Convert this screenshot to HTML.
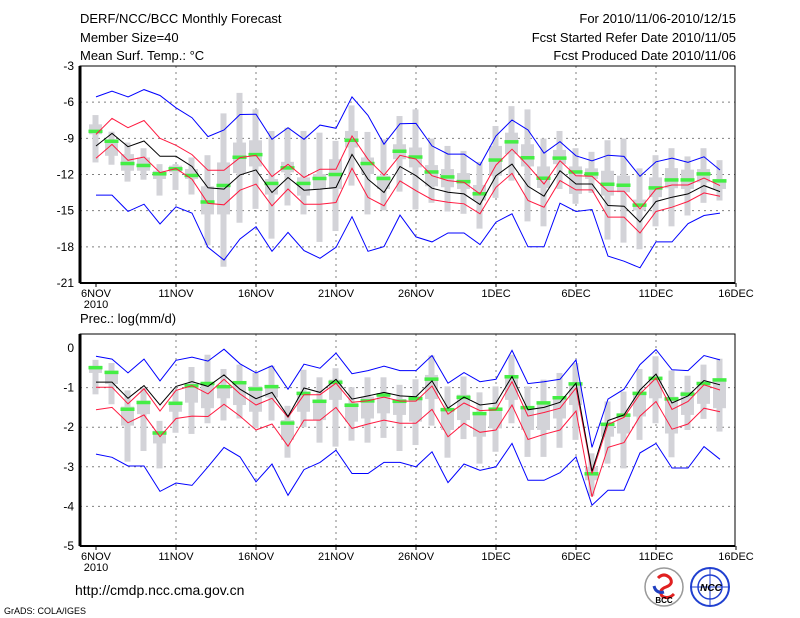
<!DOCTYPE html>
<html><head><meta charset="utf-8"><title>DERF/NCC/BCC Monthly Forecast</title>
<style>
html,body{margin:0;padding:0;background:#fff;}
svg{display:block;}
text{font-family:"Liberation Sans","DejaVu Sans",sans-serif;fill:#000;}
</style></head>
<body>
<svg id="chart" width="800" height="618" viewBox="0 0 800 618" xmlns="http://www.w3.org/2000/svg">
  <rect width="800" height="618" fill="#fff"/>
  <g font-size="13">
    <text x="80" y="23">DERF/NCC/BCC Monthly Forecast</text>
    <text x="80" y="42">Member Size=40</text>
    <text x="80" y="60">Mean Surf. Temp.: °C</text>
    <text x="736" y="23" text-anchor="end">For 2010/11/06-2010/12/15</text>
    <text x="736" y="42" text-anchor="end">Fcst Started Refer Date 2010/11/05</text>
    <text x="736" y="60" text-anchor="end">Fcst Produced Date 2010/11/06</text>
    <text x="80" y="323">Prec.: log(mm/d)</text>
  </g>
  <g id="top"></g>
  <g id="bot"></g>
  <text x="75" y="595" font-size="14">http://cmdp.ncc.cma.gov.cn</text>
  <text x="4" y="614" font-size="9">GrADS: COLA/IGES</text>
  <g>
    <circle cx="664" cy="587" r="19" fill="#fff" stroke="#999" stroke-width="1.5"/>
    <path d="M658 578 q6 -6 12 0 q4 6 -4 9 q-8 3 -4 9 q6 4 12 -2" fill="none" stroke="#e02020" stroke-width="3"/>
    <path d="M654 586 q2 8 10 6" fill="none" stroke="#2040c0" stroke-width="3"/>
    <text x="664" y="603" font-size="8" font-weight="bold" text-anchor="middle" fill="#1030a0">BCC</text>
  </g>
  <g>
    <circle cx="710" cy="587" r="19" fill="#fff" stroke="#2040d0" stroke-width="2"/>
    <circle cx="710" cy="587" r="12" fill="none" stroke="#2040d0" stroke-width="1.5"/>
    <line x1="692" y1="587" x2="728" y2="587" stroke="#2040d0"/>
    <line x1="710" y1="569" x2="710" y2="605" stroke="#2040d0"/>
    <text x="711" y="591" font-size="10" font-weight="bold" font-style="italic" text-anchor="middle" fill="#1030c0">NCC</text>
  </g>
</svg>
<script>
// ---------- Temperature panel data (°C) ----------
const tBlueHi=[-5.56,-5.09,-5.56,-4.96,-5.45,-6.47,-7.29,-8.86,-8.31,-7.02,-7.0,-9.08,-8.12,-9.08,-7.9,-8.17,-5.56,-7.1,-9.49,-7.79,-7.76,-9.63,-10.31,-10.31,-11.22,-8.8,-7.48,-8.31,-10.23,-9.27,-10.45,-10.86,-10.4,-10.5,-12.15,-10.95,-10.64,-11.0,-10.53,-11.63];
const tRedHi=[-8.67,-7.35,-8.12,-7.52,-9.0,-9.58,-10.35,-11.65,-11.65,-10.6,-10.41,-12.17,-11.15,-12.25,-11.56,-11.56,-8.81,-10.74,-12.06,-10.41,-10.73,-12.1,-12.51,-12.65,-13.61,-11.22,-9.9,-11.27,-12.79,-10.86,-12.1,-12.15,-13.39,-13.39,-14.85,-13.2,-12.87,-12.87,-12.29,-12.92];
const tMean=[-9.64,-8.59,-9.69,-9.22,-10.49,-10.49,-11.34,-13.1,-13.21,-12.03,-11.62,-13.49,-12.25,-13.3,-13.21,-13.08,-10.33,-12.39,-13.49,-11.34,-12.1,-13.14,-13.47,-13.61,-14.49,-12.1,-11.14,-12.98,-13.8,-11.69,-12.79,-12.79,-14.57,-14.63,-15.95,-14.24,-13.88,-13.61,-12.92,-13.42];
const tRedLo=[-10.66,-9.5,-10.82,-10.55,-11.84,-11.51,-12.39,-14.4,-14.51,-13.3,-12.8,-14.6,-13.2,-14.46,-14.46,-14.32,-11.48,-13.9,-14.6,-12.53,-13.34,-14.08,-14.3,-14.43,-15.26,-13.06,-11.91,-14.16,-14.71,-12.51,-13.28,-13.28,-15.53,-15.53,-16.85,-15.07,-14.71,-14.24,-13.53,-13.8];
const tBlueLo=[-13.71,-13.71,-15.06,-14.46,-16.11,-14.68,-15.2,-18.04,-19.09,-17.35,-16.33,-18.37,-16.8,-18.31,-18.95,-18.04,-15.5,-18.37,-17.98,-15.37,-17.18,-17.59,-16.85,-16.85,-17.81,-15.95,-15.26,-18.0,-18.0,-14.38,-15.07,-14.9,-18.77,-19.19,-19.74,-17.59,-17.59,-16.08,-15.4,-15.2];
const tMedian=[-8.4,-9.22,-11.07,-11.23,-11.92,-11.51,-12.06,-14.26,-12.89,-10.55,-10.33,-12.72,-11.43,-12.72,-12.31,-11.98,-9.14,-11.07,-12.31,-10.05,-10.53,-11.77,-12.18,-12.57,-13.58,-10.78,-9.27,-10.59,-12.29,-10.62,-11.77,-11.93,-12.79,-12.87,-14.52,-13.09,-12.43,-12.43,-11.93,-12.51];
const tWhiskHi=[-7.07,-8.45,-9.35,-9.82,-11.14,-11.14,-10.59,-10.4,-6.93,-5.23,-6.6,-8.39,-8.12,-8.39,-8.53,-9.21,-6.27,-8.47,-9.08,-7.15,-6.6,-9.02,-9.63,-10.04,-10.95,-7.98,-6.33,-6.6,-9.02,-8.39,-9.82,-10.12,-9.16,-9.02,-11.49,-10.4,-9.82,-10.5,-9.82,-10.81];
const tWhiskLo=[-11.0,-11.19,-12.59,-12.43,-13.75,-13.28,-13.66,-17.87,-19.65,-16.0,-14.85,-17.32,-14.57,-15.31,-17.59,-16.69,-12.92,-15.31,-14.98,-13.42,-14.9,-14.35,-15.07,-15.26,-16.49,-13.94,-12.51,-15.89,-16.3,-13.2,-14.43,-13.53,-17.4,-17.65,-18.2,-16.3,-16.3,-15.4,-14.35,-14.16];
const tBoxHi=[-7.84,-9.16,-10.31,-10.59,-11.69,-11.27,-11.55,-12.98,-11.0,-9.35,-9.16,-12.37,-10.95,-12.24,-11.96,-10.73,-8.39,-10.59,-12.1,-9.49,-9.76,-11.22,-11.55,-11.88,-12.87,-9.63,-8.53,-9.49,-11.33,-9.96,-11.33,-11.49,-11.69,-12.1,-14.08,-12.24,-11.47,-11.6,-11.55,-12.37];
const tBoxLo=[-8.66,-10.45,-11.69,-11.69,-12.37,-11.82,-12.37,-15.31,-15.31,-11.88,-11.33,-13.66,-11.82,-13.75,-13.2,-13.2,-9.76,-11.96,-13.2,-10.73,-11.41,-12.98,-13.06,-13.2,-14.16,-12.1,-10.31,-11.33,-13.12,-11.14,-13.61,-12.37,-13.75,-13.47,-14.98,-13.88,-13.14,-13.2,-12.65,-13.2];
const tTicks=[-3,-6,-9,-12,-15,-18,-21];

// ---------- Precipitation panel data (log mm/d) ----------
const pBlueHi=[-0.21,-0.28,-0.63,-0.28,-0.83,-0.31,-0.23,-0.33,-0.03,-0.4,-0.63,-0.45,-1.04,-0.41,-0.51,-0.13,-0.65,-0.57,-0.46,-0.57,-0.57,-0.19,-0.89,-0.62,-0.85,-0.79,-0.06,-0.9,-0.85,-0.79,-0.3,-2.51,-1.29,-1.04,-0.42,-0.04,-0.55,-0.57,-0.19,-0.3];
const pRedHi=[-0.99,-0.99,-1.41,-1.03,-1.59,-1.07,-0.95,-1.16,-0.79,-1.16,-1.44,-1.27,-1.75,-1.18,-1.18,-0.89,-1.37,-1.33,-1.24,-1.34,-1.34,-0.96,-1.67,-1.39,-1.58,-1.56,-0.85,-1.72,-1.63,-1.52,-1.01,-3.17,-1.93,-1.75,-1.16,-0.76,-1.55,-1.35,-0.93,-1.06];
const pMean=[-0.86,-0.86,-1.27,-0.95,-1.44,-0.97,-0.85,-0.97,-0.68,-1.04,-1.28,-1.12,-1.73,-1.01,-1.12,-0.79,-1.29,-1.21,-1.12,-1.21,-1.23,-0.83,-1.52,-1.24,-1.44,-1.39,-0.72,-1.56,-1.5,-1.37,-0.89,-3.11,-1.83,-1.69,-1.06,-0.66,-1.39,-1.21,-0.82,-0.93];
const pRedLo=[-1.56,-1.5,-1.89,-1.69,-2.24,-1.78,-1.72,-1.73,-1.42,-1.72,-2.07,-1.92,-2.48,-1.82,-1.82,-1.5,-2.03,-1.92,-1.82,-1.9,-1.9,-1.55,-2.24,-1.9,-2.13,-2.07,-1.44,-2.31,-2.18,-2.07,-1.59,-3.76,-2.51,-2.39,-1.72,-1.35,-2.05,-1.92,-1.52,-1.61];
const pBlueLo=[-2.68,-2.76,-2.98,-2.98,-3.62,-3.41,-3.47,-3.0,-2.51,-2.75,-3.38,-2.93,-3.72,-3.07,-2.89,-2.58,-3.17,-3.17,-2.89,-2.89,-3.0,-2.62,-3.4,-2.93,-3.09,-3.0,-2.41,-3.34,-3.34,-3.15,-2.75,-3.97,-3.59,-3.59,-2.65,-2.41,-3.03,-3.03,-2.49,-2.81];
const pMedian=[-0.49,-0.61,-1.54,-1.37,-2.14,-1.39,-0.95,-0.89,-0.97,-0.87,-1.03,-0.97,-1.89,-1.14,-1.34,-0.86,-1.44,-1.33,-1.18,-1.34,-1.27,-0.78,-1.55,-1.24,-1.65,-1.54,-0.72,-1.5,-1.38,-1.25,-0.9,-3.17,-1.92,-1.69,-1.14,-0.76,-1.28,-1.16,-0.89,-0.8];
const pWhiskHi=[-0.3,-0.38,-1.07,-1.0,-1.84,-1.07,-0.48,-0.17,-0.53,-0.42,-0.63,-0.45,-1.46,-0.55,-0.74,-0.51,-0.99,-0.74,-0.74,-0.93,-0.79,-0.19,-0.97,-0.72,-1.12,-0.97,-0.17,-0.97,-0.8,-0.63,-0.38,-2.66,-1.35,-1.1,-0.53,-0.21,-0.57,-0.7,-0.42,-0.27];
const pWhiskLo=[-1.17,-1.42,-2.87,-2.6,-3.04,-2.14,-2.17,-1.9,-1.83,-1.78,-2.03,-1.83,-2.77,-2.0,-2.39,-2.49,-2.34,-2.39,-2.27,-2.6,-2.45,-1.96,-2.77,-2.3,-2.92,-2.62,-1.9,-2.75,-2.75,-2.52,-2.32,-3.74,-2.92,-3.04,-2.32,-1.9,-2.76,-2.07,-1.79,-2.11];
const pBoxHi=[-0.45,-0.57,-1.48,-1.33,-2.09,-1.35,-0.9,-0.86,-0.95,-0.85,-0.97,-0.93,-1.82,-1.1,-1.31,-0.8,-1.39,-1.23,-1.14,-1.29,-1.23,-0.68,-1.52,-1.18,-1.65,-1.52,-0.68,-1.48,-1.37,-1.23,-0.89,-3.0,-1.9,-1.65,-1.1,-0.72,-1.23,-1.1,-0.87,-0.79];
const pBoxLo=[-0.63,-0.91,-1.96,-1.67,-2.41,-1.61,-1.38,-1.52,-1.27,-1.44,-1.61,-1.25,-2.32,-1.61,-1.82,-1.31,-1.86,-1.78,-1.65,-1.69,-1.86,-1.29,-2.07,-1.82,-2.24,-2.03,-1.31,-2.07,-2.07,-1.78,-1.44,-3.34,-2.24,-2.16,-1.73,-1.27,-2.16,-1.69,-1.41,-1.52];
const pTicks=[0,-1,-2,-3,-4,-5];

const xTickLabels=['6NOV','11NOV','16NOV','21NOV','26NOV','1DEC','6DEC','11DEC','16DEC'];

const NS='http://www.w3.org/2000/svg';
function mk(tag,attrs,parent){const e=document.createElementNS(NS,tag);for(const k in attrs)e.setAttribute(k,attrs[k]);parent.appendChild(e);return e;}
const xOf=i=>96+16*i;

function panel(g,cfg){
  const yOf=v=>cfg.y0+(v-cfg.v0)*(cfg.y1-cfg.y0)/(cfg.v1-cfg.v0);
  cfg.ticks.forEach((t,k)=>{
    const y=yOf(t);
    if(k>0&&k<cfg.ticks.length-1){const l=mk('line',{x1:80,x2:735,y1:y,y2:y,stroke:'#808080','stroke-dasharray':'2,4'},g);
      }
    const tx=mk('text',{x:74,y:y+4,'font-size':12,'text-anchor':'end'},g);tx.textContent=String(t);
    
  });
  xTickLabels.forEach((lab,k)=>{
    const x=xOf(k*5);
    if(k>0&&k<8){const l=mk('line',{x1:x,x2:x,y1:cfg.fy0,y2:cfg.fy1,stroke:'#808080','stroke-dasharray':'2,4'},g);
      }
    const tk=mk('line',{x1:x,x2:x,y1:cfg.fy1,y2:cfg.fy1+4,stroke:'#000'},g);
    
    const tx=mk('text',{x:x,y:cfg.fy1+14,'font-size':11,'text-anchor':'middle'},g);tx.textContent=lab;
    
  });
  const yr=mk('text',{x:96,y:cfg.fy1+25,'font-size':11,'text-anchor':'middle'},g);yr.textContent='2010';
  
  for(let i=0;i<cfg.med.length;i++){
    const x=xOf(i);
    const a=mk('rect',{x:x-3.5,width:6,y:yOf(cfg.wh[i]),height:yOf(cfg.wl[i])-yOf(cfg.wh[i]),fill:'#d3d3d8'},g);
    
    const b=mk('rect',{x:x-7,width:13,y:yOf(cfg.bh[i]),height:Math.max(1,yOf(cfg.bl[i])-yOf(cfg.bh[i])),fill:'#d3d3d8'},g);
    
  }
  for(let i=0;i<cfg.med.length;i++){
    const m=mk('rect',{x:xOf(i)-7.5,width:14,y:yOf(cfg.med[i])-1.5,height:3.5,fill:'#44ee44'},g);
    
  }
  const lines=[[cfg.bhi,'#0000ff','upper-extreme-line'],[cfg.blo,'#0000ff','lower-extreme-line'],[cfg.rhi,'#ff1a40','upper-spread-line'],[cfg.rlo,'#ff1a40','lower-spread-line'],[cfg.mean,'#000','ensemble-mean-line']];
  lines.forEach(([arr,col,name])=>{
    const p=mk('polyline',{points:arr.map((v,i)=>xOf(i)+','+yOf(v).toFixed(1)).join(' '),fill:'none',stroke:col,'stroke-width':1},g);
    
  });
  const f=mk('rect',{x:80,y:cfg.fy0,width:655,height:cfg.fy1-cfg.fy0,fill:'none',stroke:'#000','stroke-width':1},g);
  
  const ax=mk('line',{x1:80,x2:80,y1:cfg.fy0,y2:cfg.fy1,stroke:'#000','stroke-width':3},g);
  
  const bx=mk('line',{x1:80,x2:735,y1:cfg.fy1,y2:cfg.fy1,stroke:'#000','stroke-width':2},g);
  
}
panel(document.getElementById('top'),{y0:66,v0:-3,y1:283,v1:-21,fy0:66,fy1:283,ticks:tTicks,
  bhi:tBlueHi,blo:tBlueLo,rhi:tRedHi,rlo:tRedLo,mean:tMean,med:tMedian,wh:tWhiskHi,wl:tWhiskLo,bh:tBoxHi,bl:tBoxLo});
panel(document.getElementById('bot'),{y0:348,v0:0,y1:546,v1:-5,fy0:334,fy1:546,ticks:pTicks,
  bhi:pBlueHi,blo:pBlueLo,rhi:pRedHi,rlo:pRedLo,mean:pMean,med:pMedian,wh:pWhiskHi,wl:pWhiskLo,bh:pBoxHi,bl:pBoxLo});
</script>
</body></html>
